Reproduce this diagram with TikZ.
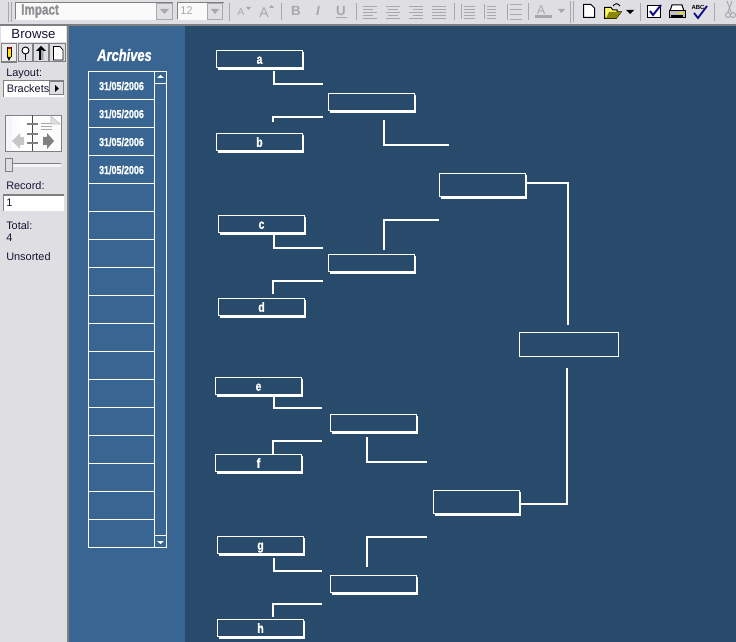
\documentclass[tikz,border=0pt]{standalone}
\usepackage{fontspec}
\setmainfont{Liberation Sans}
\newfontfamily\impactf{Liberation Sans}[FakeStretch=0.78,FakeBold=1.2]
\definecolor{panelgray}{HTML}{DFDFE3}
\definecolor{edgegray}{HTML}{808080}
\definecolor{midblue}{HTML}{386591}
\definecolor{darkblue}{HTML}{284B6B}
\definecolor{iconoff}{HTML}{A8A8AC}
\definecolor{iconnavy}{HTML}{10108A}
\definecolor{uitext}{HTML}{141432}
\tikzset{
  x=0.75pt,y=-0.75pt,
  linkline/.style={draw=white,line width=1.5pt},
  boxbase/.style={draw=white,line width=0.75pt,inner sep=0pt,outer sep=0pt,anchor=north west,
    font=\impactf\bfseries\fontsize{10}{10}\selectfont,text=white,text height=6.8pt,text depth=0pt},
  smallbox/.style={boxbase,minimum width=64.5pt,minimum height=13.1pt},
  midbox/.style={boxbase,minimum width=64.5pt,minimum height=17.6pt},
  finalbox/.style={boxbase,minimum width=74.2pt,minimum height=18.1pt},
  shadeline/.style={draw=white,line width=1.1pt},
  rowline/.style={draw=white,line width=0.75pt},
  datelabel/.style={text=white,inner sep=0pt,font=\impactf\bfseries\fontsize{8.6}{9}\selectfont},
  uilabel/.style={text=uitext,inner sep=0pt,anchor=west,font=\fontsize{8.2}{9}\selectfont},
  raisedbtn/.style={fill=panelgray,draw=edgegray,line width=0.75pt},
  sepline/.style={draw=iconoff,line width=0.75pt},
  offline/.style={draw=iconoff,line width=0.75pt},
  iconline/.style={draw=black,line width=0.75pt},
}
% shaded edge along the right and bottom side of a box
\newcommand{\boxedge}[1]{\draw[shadeline] ([shift={(1,1.5)}]#1.north east) |- ([shift={(1.5,1)}]#1.south west);}
% one aligned-text toolbar icon
\newcommand{\alignicon}[3]{\foreach \yy/\xa/\xb in {#3}{\draw[offline] (#1+\xa,#2+\yy) -- (#1+\xb,#2+\yy);}}
\begin{document}
\begin{tikzpicture}
\useasboundingbox (0,0) rectangle (736,642);
% ---------- backgrounds
\fill[panelgray] (0,0) rectangle (736,642);
\fill[edgegray] (0,24) rectangle (736,26);
\fill[edgegray] (67,26) rectangle (69,642);
\fill[midblue] (69,26) rectangle (185,642);
\fill[darkblue] (185,26) rectangle (736,642);

% ---------- toolbar
\draw[sepline] (8.5,2) -- (8.5,22); \draw[sepline] (11.5,2) -- (11.5,22);
\fill[white!85!panelgray] (16,3) rectangle (172,20);
\draw[edgegray,line width=0.75pt] (15.5,19.5) |- (172.5,2.5);
\node[inner sep=0pt,anchor=west,text=iconoff!85!black,font=\impactf\bfseries\fontsize{11.2}{12}\selectfont] (fontname) at (21,11) {Impact};
\fill[panelgray] (156,3) rectangle (173,20);
\draw[iconoff,line width=0.75pt] (156.5,19.5) rectangle (172.5,3.5);
\fill[iconoff] (160,9) -- (169,9) -- (164.5,14) -- cycle;
\fill[white!85!panelgray] (178,3) rectangle (223,20);
\draw[edgegray,line width=0.75pt] (177.5,19.5) |- (223.5,2.5);
\node[inner sep=0pt,anchor=west,text=iconoff,font=\fontsize{8.4}{9}\selectfont] (fontsize) at (180,11) {12};
\fill[panelgray] (207,3) rectangle (223,20);
\draw[iconoff,line width=0.75pt] (207.5,19.5) rectangle (222.5,3.5);
\fill[iconoff] (211,9) -- (219,9) -- (215,14) -- cycle;
\draw[sepline] (229.5,3) -- (229.5,21);
\node[inner sep=0pt,text=iconoff,font=\fontsize{7.5}{8}\selectfont] (asmall) at (241,12) {A};
\fill[iconoff] (246,7) -- (251,7) -- (248.5,10) -- cycle;
\node[inner sep=0pt,text=iconoff,font=\fontsize{10.5}{11}\selectfont] (abig) at (264,13) {A};
\fill[iconoff] (269,8) -- (274,8) -- (271.5,5) -- cycle;
\draw[sepline] (281,3) -- (281,20);
\node[inner sep=0pt,text=iconoff,font=\fontsize{10}{11}\bfseries\selectfont] (boldb) at (296,11) {B};
\node[inner sep=0pt,text=iconoff,font=\fontsize{10}{11}\bfseries\itshape\selectfont] (itali) at (318,11) {I};
\node[inner sep=0pt,text=iconoff,font=\fontsize{10}{11}\bfseries\selectfont] (undu) at (341,11) {U};
\draw[offline] (336,17.5) -- (347,17.5);
\draw[sepline] (356,3) -- (356,20);
\alignicon{363}{5}{1.5/0/14,4.5/0/10,7.5/0/14,10.5/0/10,13.5/0/14}
\alignicon{386}{5}{1.5/0/14,4.5/2/12,7.5/0/14,10.5/2/12,13.5/0/14}
\alignicon{409}{5}{1.5/0/14,4.5/4/14,7.5/0/14,10.5/4/14,13.5/0/14}
\alignicon{432}{5}{1.5/0/14,4.5/0/14,7.5/0/14,10.5/0/14,13.5/0/14}
\draw[sepline] (454,3) -- (454,20);
\alignicon{464}{5}{1.5/0/11,4.5/0/11,7.5/0/11,10.5/0/11,13.5/0/11}
\draw[offline] (461,4) -- (461,19);
\alignicon{487}{5}{1.5/0/9,4.5/0/9,7.5/0/9,10.5/0/9,13.5/0/9}
\draw[offline] (484,4) -- (484,19);
\alignicon{510}{3}{1.5/0/12,6.5/0/12,11.5/0/12,16.5/0/12}
\draw[offline] (507,4) -- (507,20);
\draw[sepline] (528,3) -- (528,20);
\node[inner sep=0pt,text=iconoff,font=\fontsize{9.5}{10}\selectfont] (colora) at (541,10) {A};
\fill[iconoff] (535,15) rectangle (552,18);
\fill[iconoff] (558,9) -- (565,9) -- (561.5,13) -- cycle;
\draw[sepline] (570,1) -- (570,23); \draw[sepline] (573.5,1) -- (573.5,22);
% new document
\draw[iconline,fill=white] (583.5,4.5) -- (591,4.5) -- (594.5,8) -- (594.5,17.5) -- (583.5,17.5) -- cycle;
% open folder
\draw[iconline,fill=yellow!60] (604.5,18.5) -- (604.5,7.5) -- (611,7.5) -- (613,10) -- (617,10) -- (617,12) -- (621,12) -- (616,18.5) -- cycle;
\fill[olive] (606,18.5) -- (609,12) -- (621,12) -- (616,18.5) -- cycle;
\draw[iconline] (613,6) .. controls (615,3) and (618,3) .. (620,6);
\fill[black] (626,10) -- (634,10) -- (630,14) -- cycle;
\draw[sepline] (640,3) -- (640,21);
% check box
\draw[iconline,fill=white] (647.5,5.5) rectangle (660,18);
\draw[iconnavy,line width=1.5pt] (650,11) -- (653,15) -- (661,5);
% printer
\draw[iconline,fill=white] (672,5) -- (682,5) -- (684,11) -- (670,11) -- cycle;
\draw[iconline,fill=lightgray] (669,11) rectangle (685,18);
\fill[yellow!90!black] (679,12.5) rectangle (683,14.5);
\fill[black] (671,15) rectangle (683,17);
% spelling
\node[inner sep=0pt,text=black,font=\bfseries\fontsize{4.5}{5}\selectfont] (abc) at (698,7) {ABC};
\draw[iconnavy,line width=1.4pt] (694,13) -- (698,18) -- (707,6);
\draw[sepline] (714,3) -- (714,21);
% scissors
\draw[offline] (727,1) -- (731,12); \draw[offline] (732,1) -- (728,12);
\draw[offline] (728,15) circle (2.5); \draw[offline] (733,15) circle (2.5);

% ---------- side panel
\fill[white] (1,26) rectangle (66,42);
\node[inner sep=0pt,text=uitext,font=\fontsize{9.9}{10}\selectfont] (browse) at (33.5,34.5) {Browse};
% tool buttons
\fill[panelgray!60!white] (2,43) rectangle (16,62);
\draw[edgegray,line width=0.9pt] (1.5,62) -- (1.5,43.5) -- (16.5,43.5) -- (16.5,62) -- cycle;
\draw[raisedbtn] (18,43.5) rectangle (32,62);
\draw[raisedbtn] (33.5,43.5) rectangle (48,62);
\draw[raisedbtn] (49.5,43.5) rectangle (65,62);
% pencil
\fill[yellow!90!orange] (7,49) rectangle (11,57);
\fill[red!80!black] (7,47) rectangle (11,49);
\fill[black] (7,57) -- (11,57) -- (9,61) -- cycle;
\draw[black,line width=0.4pt] (7,47) -- (7,57); \draw[black,line width=0.4pt] (11,47) -- (11,57);
% magnifier
\draw[black,line width=0.7pt,fill=white] (25.5,50.5) circle (3.5);
\draw[black,line width=0.9pt] (25.5,54) -- (25.5,60);
% up-arrow tool
\fill[black] (36,51) -- (41,46) -- (46,51) -- (43,51) -- (43,60) -- (39,60) -- (39,51) -- cycle;
\fill[darkblue!50!white] (41,50) rectangle (43,60);
% page
\draw[black,line width=0.5pt,fill=white] (53.5,46.5) -- (60,46.5) -- (63,50) -- (63,60) -- (53.5,60) -- cycle;

\node[uilabel] (layoutlabel) at (6,73.5) {Layout:};
\fill[white] (3,80) rectangle (64,97);
\draw[edgegray,line width=0.75pt] (3.5,97) |- (64,80.5);
\node[uilabel] (layoutvalue) at (6.5,89) {Brackets};
\draw[raisedbtn] (49.5,81.5) rectangle (63,95);
\fill[black] (55,85) -- (55,92) -- (59,88.5) -- cycle;

% book navigator
\fill[white!90!panelgray] (5,115) rectangle (62,152);
\fill[white] (20,116) rectangle (32,151);
\fill[white!70!panelgray] (6,116) rectangle (12,151);
\draw[edgegray,line width=1pt] (5.5,115.5) -- (5.5,151.5) -- (61.5,151.5) -- (61.5,115.5) -- cycle;
\draw[black!70,line width=1pt] (32.5,115.5) -- (32.5,151.5);
\foreach \ry in {124,134,143}{\draw[edgegray,line width=1.2pt] (27,\ry) -- (38,\ry);}
\fill[iconoff!65!white] (12,141) -- (20,133) -- (20,137) -- (24,137) -- (24,145) -- (20,145) -- (20,149) -- cycle;
\fill[edgegray] (54,141) -- (47,133) -- (47,137) -- (43,137) -- (43,145) -- (47,145) -- (47,149) -- cycle;
\foreach \ry in {123,126,129}{\draw[iconoff,line width=0.5pt] (41,\ry) -- (52,\ry);}
\draw[lightgray,fill=panelgray] (51,116) -- (60,124) -- (51,124) -- cycle;
% slider
\fill[white!70!panelgray] (5,163) rectangle (61,167);
\draw[edgegray,line width=0.6pt] (5,163.5) -- (61,163.5);
\draw[raisedbtn] (5.5,158.5) rectangle (12.5,171);

\node[uilabel] (recordlabel) at (6,186) {Record:};
\fill[white] (3,195) rectangle (64,211);
\draw[edgegray,line width=1.1pt] (3.5,211) |- (64,195);
\node[uilabel] (recordvalue) at (6,203) {1};
\node[uilabel] (totallabel) at (6,225.5) {Total:};
\node[uilabel] (totalvalue) at (6,238) {4};
\node[uilabel] (sortlabel) at (6,257) {Unsorted};

% ---------- archive list
\node[inner sep=0pt,text=white,font=\impactf\bfseries\itshape\fontsize{12.4}{13}\selectfont] (archives) at (124.5,55) {Archives};
\draw[rowline] (88.5,71.5) rectangle (166.5,547.5);
\draw[rowline] (154.5,71.5) -- (154.5,547.5);
\foreach \k in {1,...,16}{\draw[rowline] (89,71.5+28*\k) -- (154.5,71.5+28*\k);}
\draw[rowline] (154.5,83.5) -- (166.5,83.5);
\draw[rowline] (154.5,535.5) -- (166.5,535.5);
\fill[white] (157,78) -- (164,78) -- (160.5,75) -- cycle;
\fill[white] (157,541) -- (164,541) -- (160.5,544) -- cycle;
\node[datelabel] (date1) at (121.5,86) {31/05/2006};
\node[datelabel] (date2) at (121.5,114) {31/05/2006};
\node[datelabel] (date3) at (121.5,142) {31/05/2006};
\node[datelabel] (date4) at (121.5,170) {31/05/2006};

% ---------- bracket boxes
\node[smallbox] (a) at (216.5,50.5) {a};
\node[smallbox] (b) at (216.5,133.5) {b};
\node[smallbox] (c) at (218.5,215.5) {c};
\node[smallbox] (d) at (218.5,298.5) {d};
\node[smallbox] (e) at (215.5,377.5) {e};
\node[smallbox] (f) at (215.5,454.5) {f};
\node[smallbox] (g) at (217.5,536.5) {g};
\node[smallbox] (h) at (217.5,619.5) {h};
\node[smallbox] (ab) at (328.5,93.5) {};
\node[smallbox] (cd) at (328.5,254.5) {};
\node[smallbox] (ef) at (330.5,414.5) {};
\node[smallbox] (gh) at (330.5,575.5) {};
\node[midbox] (abcd) at (439.5,173.5) {};
\node[midbox] (efgh) at (433.5,490.5) {};
\node[finalbox] (final) at (519.5,332.5) {};
\foreach \n in {a,b,c,d,e,f,g,h,ab,cd,ef,gh,abcd,efgh}{\boxedge{\n}}

% ---------- connector ends
\coordinate (aout) at (274,71);   \coordinate (abtop) at (323,84);
\coordinate (bout) at (273,122);  \coordinate (abbot) at (323,117);
\coordinate (cout) at (274,235);  \coordinate (cdtop) at (323,248);
\coordinate (dout) at (273,294);  \coordinate (cdbot) at (323,281);
\coordinate (eout) at (274,396);  \coordinate (eftop) at (322,408);
\coordinate (fout) at (273,454);  \coordinate (efbot) at (322,441);
\coordinate (gout) at (274,558);  \coordinate (ghtop) at (322,571);
\coordinate (hout) at (273,617);  \coordinate (ghbot) at (322,604);
\coordinate (about) at (384,120); \coordinate (abfree) at (449,145);
\coordinate (cdout) at (384,250); \coordinate (cdfree) at (439,220);
\coordinate (efout) at (367,437); \coordinate (effree) at (427,462);
\coordinate (ghout) at (367,567); \coordinate (ghfree) at (427,537);
\coordinate (abcdout) at (527,183); \coordinate (finaltop) at (568,325);
\coordinate (efghout) at (521,504); \coordinate (finalbot) at (567,368);

\draw[linkline] (aout) |- (abtop);
\draw[linkline] (bout) |- (abbot);
\draw[linkline] (cout) |- (cdtop);
\draw[linkline] (dout) |- (cdbot);
\draw[linkline] (eout) |- (eftop);
\draw[linkline] (fout) |- (efbot);
\draw[linkline] (gout) |- (ghtop);
\draw[linkline] (hout) |- (ghbot);
\draw[linkline] (about) |- (abfree);
\draw[linkline] (cdout) |- (cdfree);
\draw[linkline] (efout) |- (effree);
\draw[linkline] (ghout) |- (ghfree);
\draw[linkline] (abcdout) -| (finaltop);
\draw[linkline] (efghout) -| (finalbot);
\end{tikzpicture}
\end{document}
